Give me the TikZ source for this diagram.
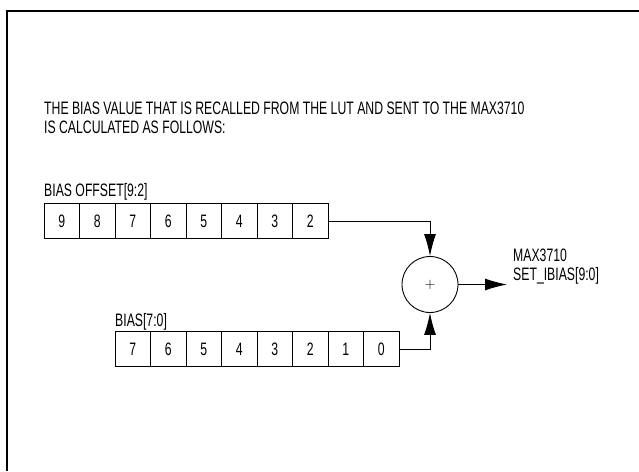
\documentclass[tikz,border=0pt]{standalone}
\usepackage{fontspec}
\setmainfont{Liberation Sans}[FakeStretch=0.68]
\usetikzlibrary{positioning,arrows.meta}

\begin{document}
\begin{tikzpicture}[x=1pt,y=-1pt,
    font=\fontsize{18}{19}\selectfont,
    bit/.style={draw, line width=0.9pt, minimum size=35.5pt, inner sep=0pt},
    sig/.style={line width=0.9pt, -{Latex[length=22pt,width=12pt]}}]
        \useasboundingbox (0,0) rectangle (639,471);
        \draw[line width=2pt] (7,471) |- (639,11);

        \node[anchor=base west, align=left, inner sep=0pt] (title) at (44,133)
            {THE BIAS VALUE THAT IS RECALLED FROM THE LUT AND SENT TO THE MAX3710\\
             IS CALCULATED AS FOLLOWS:};

        \node[anchor=base west, inner sep=0pt] (ofslabel) at (44,196) {BIAS OFFSET[9:2]};
        \foreach \b [count=\i] in {9,8,7,6,5,4,3,2}
            \node[bit] (o\b) at (26.25+35.5*\i,221) {\b};

        \node[anchor=base west, inner sep=0pt] (biaslabel) at (115,326) {BIAS[7:0]};
        \foreach \b [count=\i] in {7,6,5,4,3,2,1,0}
            \node[bit] (b\b) at (97.25+35.5*\i,349) {\b};

        \node[circle, draw, line width=0.9pt, minimum size=56pt, inner sep=0pt] (sum) at (430,284.5)
            {\fontsize{15}{15}\selectfont$+$};
        \node[anchor=base west, align=left, inner sep=0pt] (out) at (513,280) {MAX3710\\SET\_IBIAS[9:0]};

        \draw[sig] (o2.east) -| (sum.north);
        \draw[sig] (b0.east) -| (sum.south);
        \draw[sig] (sum.east) -- ([xshift=-6pt]sum.east -| out.west);
    \end{tikzpicture}
\end{document}
